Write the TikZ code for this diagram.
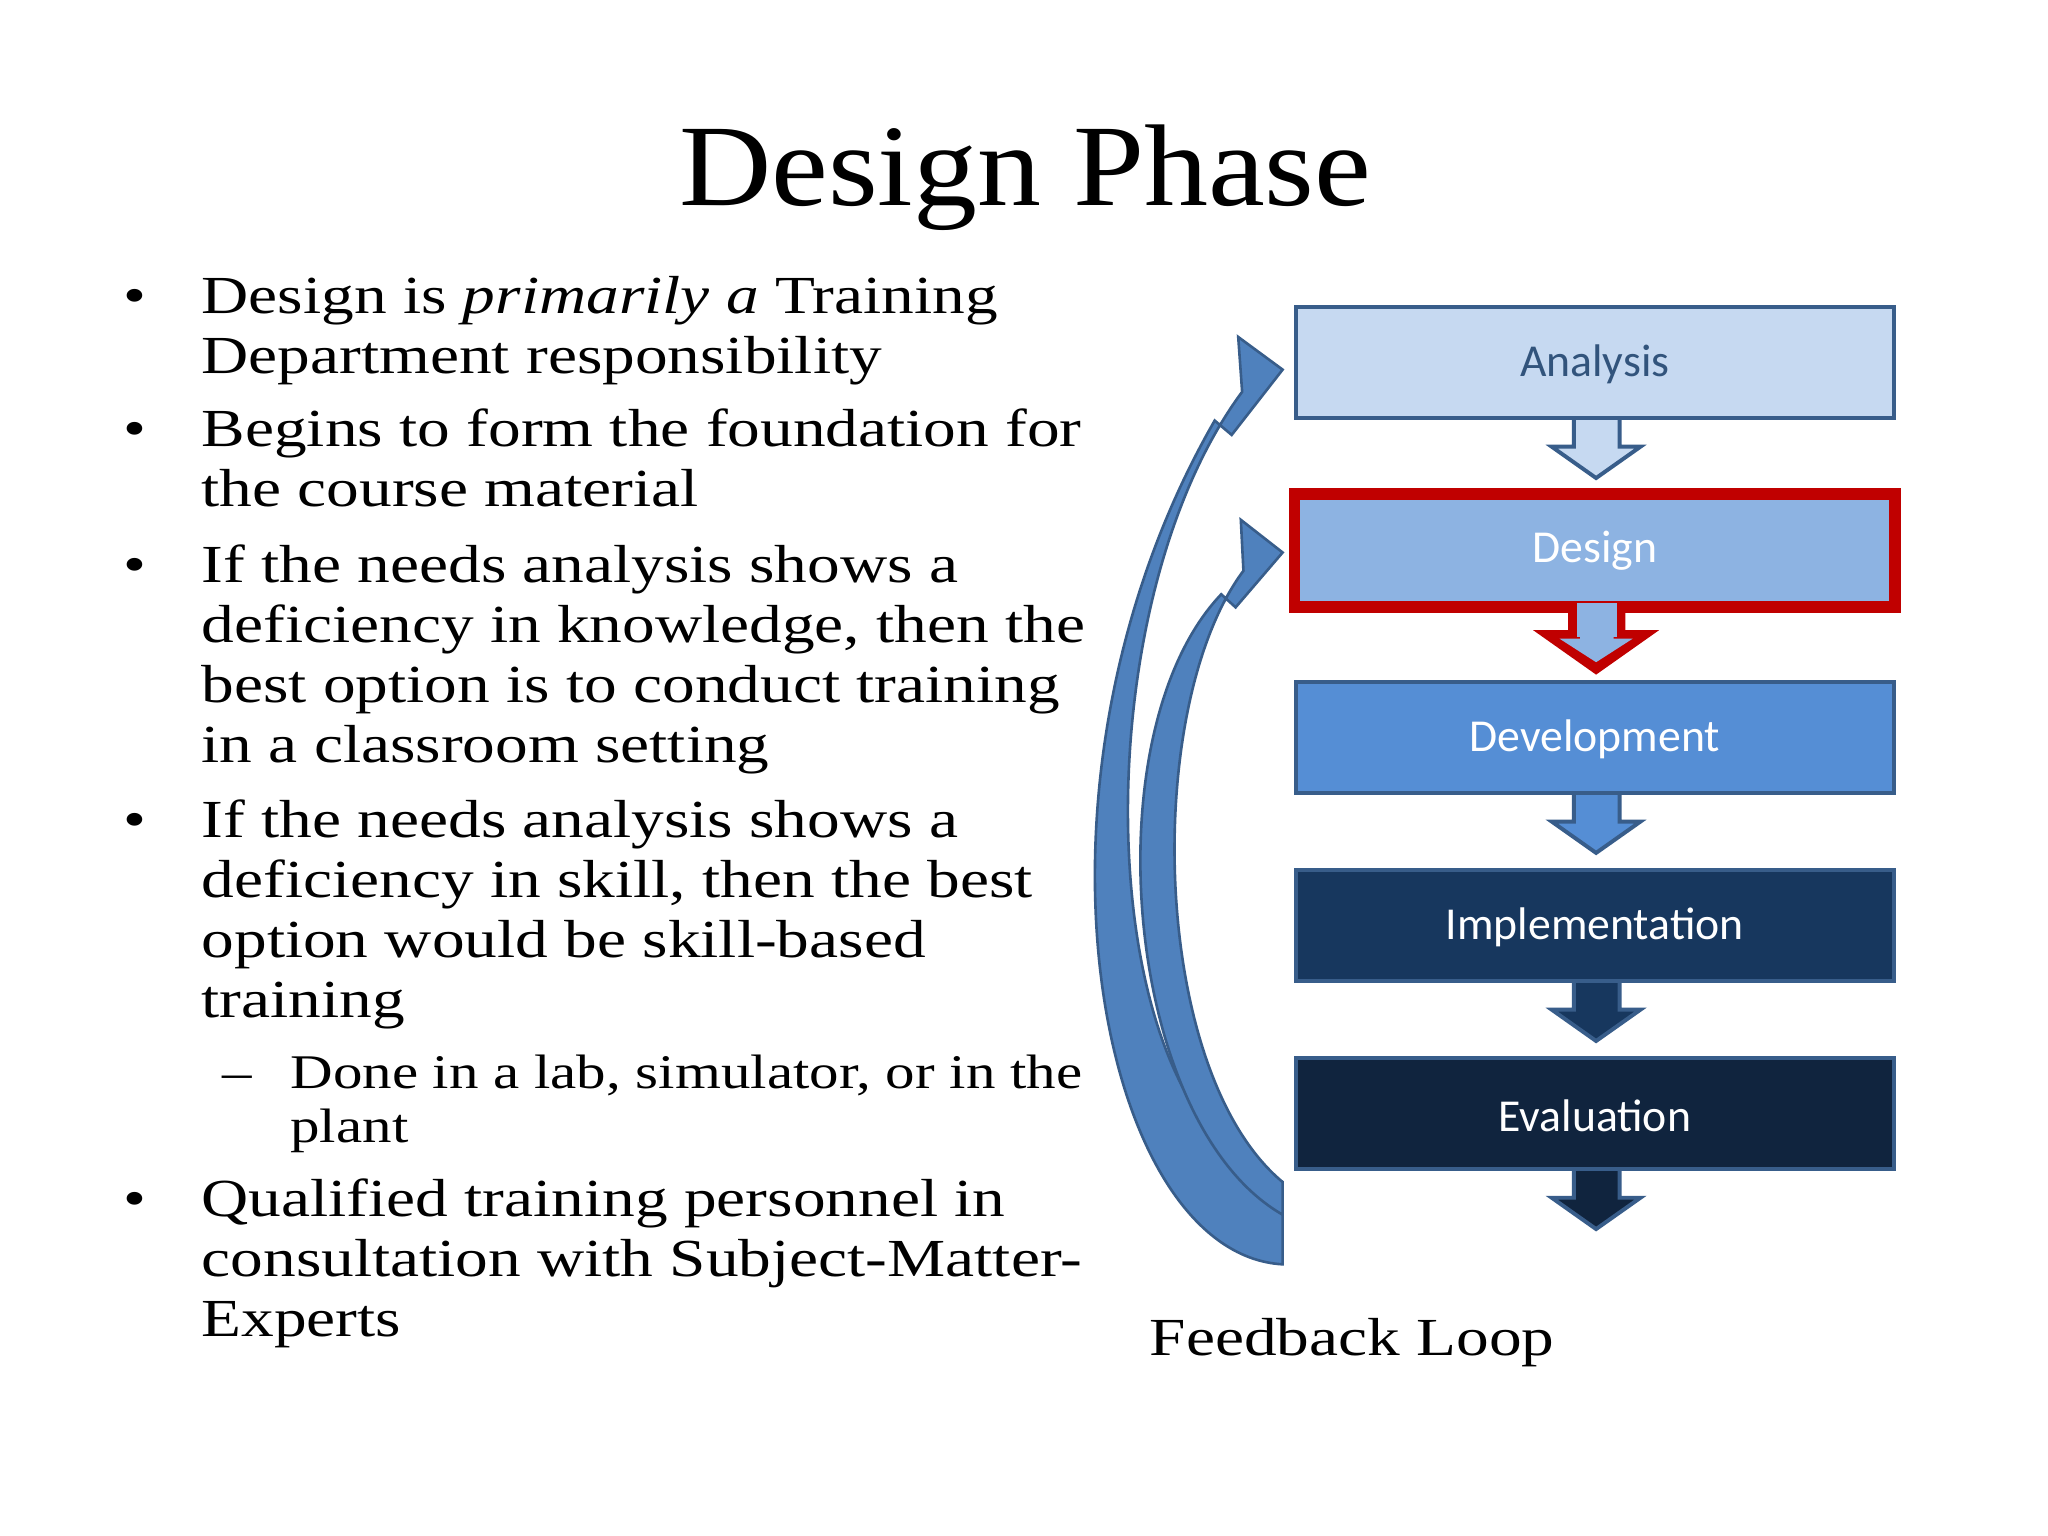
\documentclass[tikz,border=0pt]{standalone}
\usepackage{fontspec}
\setmainfont[FakeStretch=1.1]{Liberation Serif}
\newfontfamily\bodyfont[FakeStretch=1.22]{Liberation Serif}
\newfontfamily\boxfont{Carlito}
\definecolor{bA}{HTML}{C6D9F1}
\definecolor{bB}{HTML}{8DB3E2}
\definecolor{bC}{HTML}{558ED5}
\definecolor{bD}{HTML}{17375E}
\definecolor{bE}{HTML}{10243E}
\definecolor{edge}{HTML}{385D8A}
\definecolor{redb}{HTML}{C00000}
\definecolor{arr}{HTML}{4F81BD}
\begin{document}
\begin{tikzpicture}[x=0.5pt,y=-0.5pt,
  ln/.style={anchor=base west,inner sep=0pt,font=\bodyfont\fontsize{20.5}{24}\selectfont},
  sl/.style={anchor=base west,inner sep=0pt,font=\bodyfont\fontsize{18.5}{22}\selectfont},
  lbl/.style={font=\boxfont\fontsize{17.5}{20}\selectfont}]
\useasboundingbox (0,0) rectangle (1568,1176);
\fill[white] (0,0) rectangle (1568,1176);
\node[font=\fontsize{44.5}{50}\selectfont,inner sep=0pt,anchor=base] (title) at (785,157) {Design Phase};
% bullets
\foreach \y in {240,342,446,641,931}{\node[ln] at (94,\y) {•};}
\node[ln] (l1) at (154,240) {Design is \textit{primarily a} Training};
\node[ln] (l2) at (154,286) {Department responsibility};
\node[ln] (l3) at (154,342) {Begins to form the foundation for};
\node[ln] (l4) at (154,388) {the course material};
\node[ln] (l5) at (154,446) {If the needs analysis shows a};
\node[ln] (l6) at (154,492) {deficiency in knowledge, then the};
\node[ln] (l7) at (154,538) {best option is to conduct training};
\node[ln] (l8) at (154,584) {in a classroom setting};
\node[ln] (l9) at (154,641) {If the needs analysis shows a};
\node[ln] (l10) at (154,687) {deficiency in skill, then the best};
\node[ln] (l11) at (154,733) {option would be skill-based};
\node[ln] (l12) at (154,779) {training};
\node[sl] at (170,833) {–};
\node[sl] (s1) at (222,833) {Done in a lab, simulator, or in the};
\node[sl] (s2) at (222,875) {plant};
\node[ln] (l13) at (154,931) {Qualified training personnel in};
\node[ln] (l14) at (154,977) {consultation with Subject-Matter-};
\node[ln] (l15) at (154,1023) {Experts};
\node[ln] (fb) at (880,1038) {Feedback Loop};
% feedback arrows
\filldraw[fill=arr,draw=edge,line width=1pt]
 (982,968) .. controls (840,960) and (770,600) .. (930,322) -- (943,333) -- (982,283) -- (948,258) -- (951,300)
 .. controls (825,470) and (835,860) .. (982,905) -- cycle;
\filldraw[fill=arr,draw=edge,line width=1pt]
 (982,930) .. controls (860,860) and (835,560) .. (935,455) -- (946,465) -- (982,423) -- (950,398) -- (952,437)
 .. controls (875,540) and (880,820) .. (982,905) -- cycle;
% boxes
\foreach \t/\c/\n/\tc [count=\i] in {235/bA/Analysis/edge!90!black, 378/bB/Design/white, 522/bC/Development/white, 666/bD/Implementation/white, 810/bE/Evaluation/white}{
  \pgfmathsetmacro{\b}{\t+85}
  \filldraw[fill=\c,draw=edge,line width=1.5pt] (1205,\b-5) -- (1205,\b+22) -- (1188,\b+22) -- (1222,\b+46) -- (1256,\b+22) -- (1240,\b+22) -- (1240,\b-5) -- cycle;
  \filldraw[fill=\c,draw=edge,line width=1.5pt] (992,\t) rectangle (1450,\b);
  \node[lbl,text=\tc] (n\i) at (1221,\t+44) {\n};
}
% design highlight
\draw[redb,line width=4.5pt,line join=miter] (991,378) rectangle (1451,465);
\draw[redb,line width=4.5pt,line join=miter] (1205,466) -- (1205,487) -- (1188,487) -- (1222,511) -- (1256,487) -- (1240,487) -- (1240,466);
\fill[bB] (1207,462) rectangle (1238,488);
\fill[bB] (1194,489) -- (1222,507) -- (1250,489) -- cycle;
\end{tikzpicture}
\end{document}
